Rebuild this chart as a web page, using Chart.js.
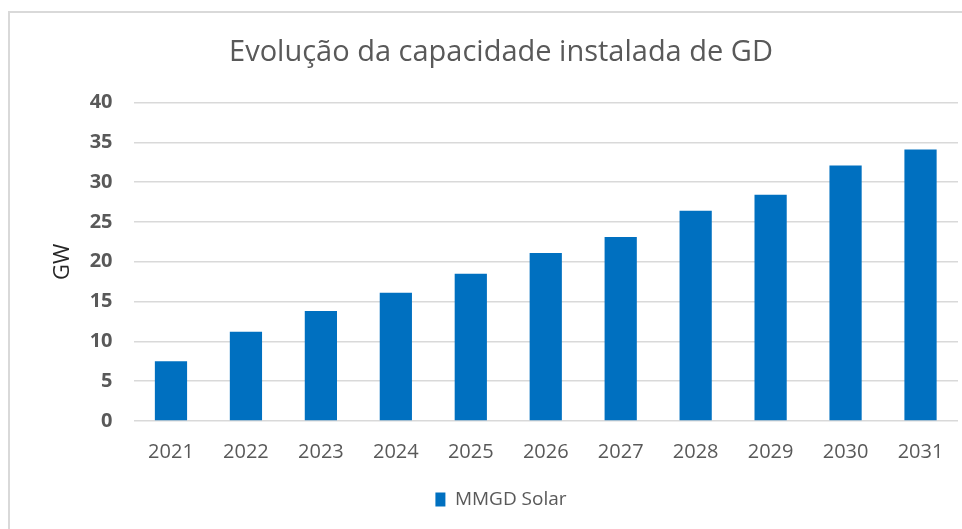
<!DOCTYPE html>
<html>
<head>
<meta charset="utf-8">
<script src="https://cdn.jsdelivr.net/npm/chart.js@4.4.1/dist/chart.umd.min.js"></script>
<style>
  html, body { margin: 0; padding: 0; background: #ffffff; }
  body { width: 962px; height: 529px; position: relative; overflow: hidden; }
  #frame { position: absolute; left: 8px; top: 11px; width: 1000px; height: 600px;
           border-left: 2px solid #d9d9d9; border-top: 2px solid #d9d9d9; box-sizing: border-box; }
  #wrap { position: absolute; left: 0; top: 0; width: 1002px; height: 529px; }
</style>
</head>
<body>
<div id="frame"></div>
<div id="wrap"><canvas id="c" width="1002" height="529"></canvas></div>
<script>
const categories = ['2021','2022','2023','2024','2025','2026','2027','2028','2029','2030','2031'];
const seriesName = 'MMGD Solar';
const seriesValues = [7.5, 11.2, 13.8, 16.1, 18.5, 21.1, 23.1, 26.4, 28.4, 32.1, 34.1];
const chartTitle = 'Evolução da capacidade instalada de GD';
const yAxisTitle = 'GW';
const yMin = 0, yMax = 40, yStep = 5;

const FONT = "'Open Sans', 'DejaVu Sans', sans-serif";
const GRAY = '#595959';

new Chart(document.getElementById('c'), {
  type: 'bar',
  data: {
    labels: categories,
    datasets: [{
      label: seriesName,
      data: seriesValues,
      backgroundColor: '#0070C0',
      borderWidth: 0,
      barPercentage: 0.43,
      categoryPercentage: 1.0
    }]
  },
  options: {
    responsive: false,
    animation: false,
    devicePixelRatio: 1,
    layout: { padding: { left: 0, right: 0, top: 0, bottom: 10 } },
    plugins: {
      title: {
        display: true,
        text: chartTitle,
        color: GRAY,
        font: { family: FONT, size: 29, weight: 'normal', lineHeight: 1.2 },
        padding: { top: 35, bottom: 32.7 }
      },
      legend: {
        display: true,
        position: 'bottom',
        labels: {
          color: GRAY,
          font: { family: FONT, size: 19 },
          boxWidth: 10,
          boxHeight: 14,
          padding: 10
        }
      },
      tooltip: { enabled: false }
    },
    scales: {
      x: {
        grid: { display: false, drawTicks: false },
        border: { display: false },
        ticks: { color: GRAY, font: { family: FONT, size: 20 }, padding: 19, maxRotation: 0 },
        afterFit: (s) => { s.height = 59; }
      },
      y: {
        min: yMin, max: yMax,
        ticks: { stepSize: yStep, color: GRAY, font: { family: FONT, size: 20, weight: 'bold' }, padding: 21 },
        grid: { color: '#d9d9d9', lineWidth: 1.5, drawTicks: false, tickLength: 0 },
        border: { display: false },
        title: {
          display: true,
          text: yAxisTitle,
          color: '#262626',
          font: { family: FONT, size: 22 },
          padding: { top: 50, bottom: 0 }
        },
        afterFit: (s) => { s.width = 133.5; }
      },
      yRight: {
        position: 'right',
        display: true,
        min: yMin, max: yMax,
        grid: { display: false, drawTicks: false },
        border: { display: false },
        ticks: { display: false },
        afterFit: (s) => { s.width = 44; }
      }
    }
  }
});
</script>
</body>
</html>
